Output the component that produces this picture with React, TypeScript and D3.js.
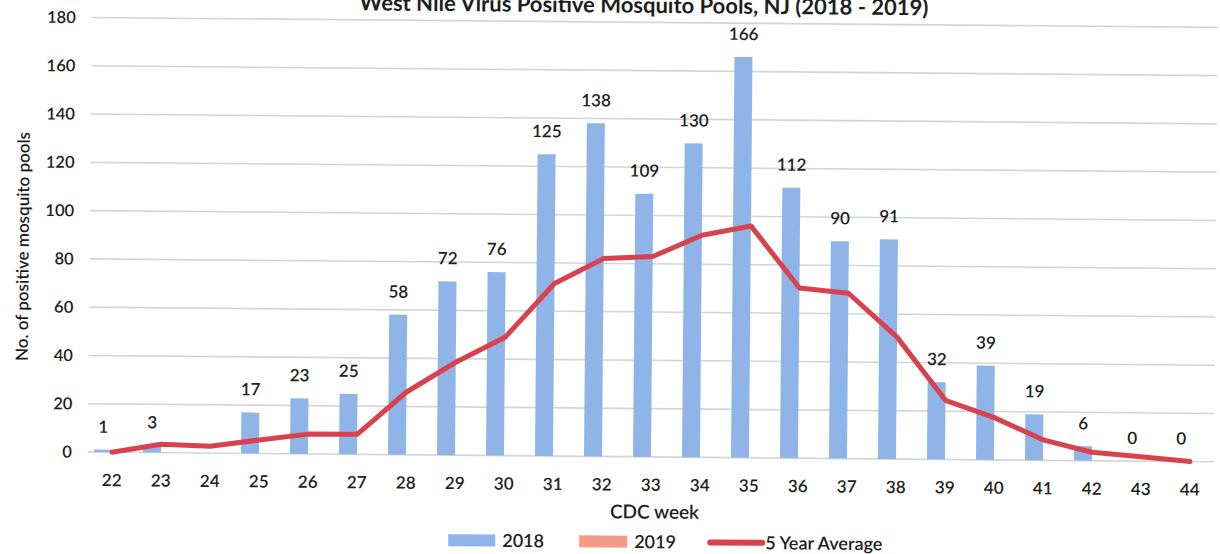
import React from "react";
import * as d3 from "d3";

const weeks = ["22","23","24","25","26","27","28","29","30","31","32","33","34","35","36","37","38","39","40","41","42","43","44"];
const pools2018: (number | null)[] = [1,3,null,17,23,25,58,72,76,125,138,109,130,166,112,90,91,32,39,19,6,0,0];
const pools2019: (number | null)[] = weeks.map(() => null);
const fiveYearAvg = [0,3.5,2.8,5.6,8.2,8.3,26,38.5,49,71.5,82,83,92,96,70.5,68.5,50.5,24.5,17.5,8.5,3.5,1.8,0];
const yTicks = [0,20,40,60,80,100,120,140,160,180];
const seriesNames = ["2018","2019"];

const W = 1220, H = 554;
const FONT = "Lato, 'Open Sans', sans-serif";
const BLUE = "#8fb5e8";
const SALMON = "#f59a86";
const RED = "#d8424f";
const INK = "#1e1e1e";

export default function App() {
  const x = d3.scaleBand<string>().domain(weeks).range([87.5, 1214.5]).paddingInner(0).paddingOuter(0);
  const inner = d3.scaleBand<string>().domain(seriesNames).range([0, x.step()]).paddingInner(0).paddingOuter(0.361);
  const y = d3.scaleLinear().domain([0, 180]).range([452, 17.5]);
  const cx = (w: string) => (x(w) as number) + x.bandwidth() / 2;
  const line = d3.line<number>().x((_, i) => cx(weeks[i])).y(d => y(d));

  return (
    <svg width={W} height={H} style={{ position: "absolute", left: 0, top: 0, background: "#fff" }} fontFamily={FONT}>
      <g transform="rotate(0.5, 90, 452)">
        <text x={640} y={8} textAnchor="middle" fontSize={22} fontWeight="bold" fill={INK}>
          West Nile Virus Positive Mosquito Pools, NJ (2018 - 2019)
        </text>
        {yTicks.map(t => (
          <g key={t}>
            <line x1={88} x2={1214} y1={y(t)} y2={y(t)} stroke="#d3d6d6" strokeWidth={1.6} />
            <text x={72} y={y(t)} dy="0.35em" textAnchor="end" fontSize={16.5} fontWeight={600} fill={INK}>{t}</text>
          </g>
        ))}
        {weeks.map((w, i) => {
          const v = pools2018[i];
          if (v == null) return null;
          const bx = (x(w) as number) + (inner("2018") as number);
          return (
            <g key={w}>
              <rect x={bx} y={y(v)} width={inner.bandwidth()} height={y(0) - y(v)} fill={BLUE} />
              <text x={bx + inner.bandwidth() / 2} y={y(v) - 17} textAnchor="middle" fontSize={17} fontWeight={600} fill={INK}>{v}</text>
            </g>
          );
        })}
        {weeks.map((w, i) => {
          const v = pools2019[i];
          if (v == null) return null;
          const bx = (x(w) as number) + (inner("2019") as number);
          return <rect key={"b19" + w} x={bx} y={y(v)} width={inner.bandwidth()} height={y(0) - y(v)} fill={SALMON} />;
        })}
        <path d={line(fiveYearAvg) || ""} fill="none" stroke={RED} strokeWidth={5} strokeLinejoin="round" strokeLinecap="round" />
        {weeks.map(w => (
          <text key={"t" + w} x={cx(w)} y={480} dy="0.35em" textAnchor="middle" fontSize={17} fontWeight={600} fill={INK}>{w}</text>
        ))}
        <text x={655} y={507} dy="0.35em" textAnchor="middle" fontSize={19} fontWeight={600} fill={INK}>CDC week</text>
        <text transform="translate(21,247) rotate(-90)" textAnchor="middle" dy="0.35em" fontSize={17} fontWeight={600} fill={INK}>
          No. of positive mosquito pools
        </text>
        <g>
          <rect x={449} y={531} width={47} height={12} fill={BLUE} />
          <text x={503} y={537} dy="0.35em" fontSize={18} fontWeight={600} fill={INK}>2018</text>
          <rect x={580} y={531} width={48} height={12} fill={SALMON} />
          <text x={635} y={537} dy="0.35em" fontSize={18} fontWeight={600} fill={INK}>2019</text>
          <line x1={711} x2={763} y1={537} y2={537} stroke={RED} strokeWidth={6} strokeLinecap="round" />
          <text x={766} y={537} dy="0.35em" fontSize={18} fontWeight={600} fill={INK}>5 Year Average</text>
        </g>
      </g>
    </svg>
  );
}
